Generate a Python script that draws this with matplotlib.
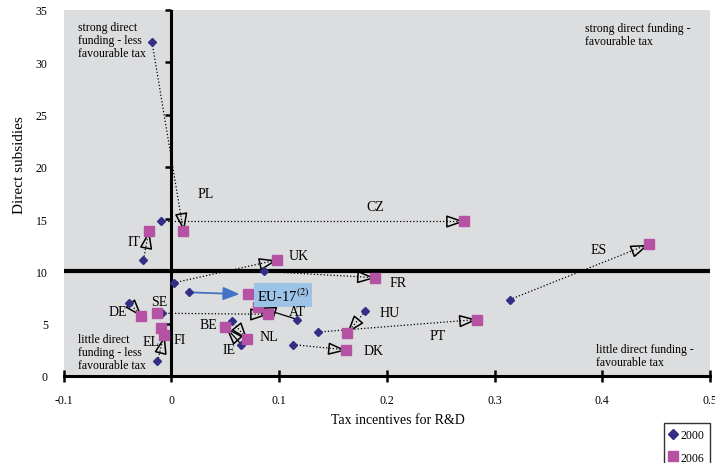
import numpy as np
import matplotlib
matplotlib.use("Agg")
import matplotlib.pyplot as plt
from matplotlib.markers import MarkerStyle
from matplotlib.path import Path
from matplotlib.transforms import Affine2D
from matplotlib.lines import Line2D

plt.rcParams['font.family'] = ['Liberation Serif', 'DejaVu Serif']
plt.rcParams['mathtext.fontset'] = 'stix'

# tax incentives (x) and direct subsidies (y), 2000 -> 2006
countries = ['PL', 'CZ', 'IT', 'UK', 'FR', 'ES', 'DE', 'SE', 'AT', 'NL',
             'BE', 'IE', 'EL', 'FI', 'HU', 'PT', 'DK']
x2000 = [-0.018, -0.010, -0.026, 0.002, 0.086, 0.314, -0.039, np.nan, -0.009, 0.056,
         0.117, 0.065, -0.013, np.nan, 0.180, 0.136, 0.113]
y2000 = [31.9, 14.8, 11.1, 8.9, 10.0, 7.3, 7.0, np.nan, 6.0, 5.3,
         5.4, 3.0, 1.4, np.nan, 6.2, 4.2, 3.0]
x2006 = [0.011, 0.272, -0.021, 0.098, 0.189, 0.443, -0.028, -0.013, 0.090, 0.070,
         0.080, 0.050, -0.007, -0.010, 0.163, 0.284, 0.162]
y2006 = [13.9, 14.8, 13.9, 11.1, 9.4, 12.6, 5.7, 6.0, 5.9, 3.5,
         6.6, 4.7, 3.9, 4.6, 4.1, 5.4, 2.5]
solid = ['BE', 'IE']

eu_x = [0.016, 0.071]
eu_y = [8.0, 7.8]

label_pos = {'PL': (0.032, 17.4), 'CZ': (0.189, 16.2), 'IT': (-0.035, 12.9),
             'UK': (0.118, 11.5), 'ES': (0.397, 12.1), 'FR': (0.210, 8.95),
             'DE': (-0.050, 6.2), 'SE': (-0.011, 7.1), 'AT': (0.117, 6.2),
             'HU': (0.203, 6.1), 'BE': (0.034, 4.9), 'NL': (0.090, 3.8),
             'PT': (0.247, 3.9), 'IE': (0.053, 2.5), 'DK': (0.188, 2.4),
             'EL': (-0.019, 3.3), 'FI': (0.008, 3.5)}

c2000 = '#332F85'
c2006 = '#B552A3'

fig = plt.figure(figsize=(7.15, 4.64), dpi=100)
ax = fig.add_axes([0.0892, 0.1875, 0.9038, 0.789])
ax.set_facecolor('#DCDDDF')
ax.set_xlim(-0.1, 0.5)
ax.set_ylim(0, 35)

for s in ['top', 'right', 'left']:
    ax.spines[s].set_visible(False)
ax.spines['bottom'].set_linewidth(2.2)
ax.set_xticks([-0.1, 0, 0.1, 0.2, 0.3, 0.4, 0.5])
ax.set_xticklabels(['-0.1', '0', '0.1', '0.2', '0.3', '0.4', '0.5'])
ax.tick_params(axis='x', direction='inout', length=8, width=1.8, pad=9, labelsize=8.5)
yt = [0, 5, 10, 15, 20, 25, 30, 35]
ax.set_yticks(yt)
ax.tick_params(axis='y', length=0, pad=11.5, labelsize=8.5)

# quadrant lines
ax.axhline(10, color='black', lw=3, zorder=2)
ax.axvline(0, color='black', lw=2.2, zorder=2)
ax.plot(np.zeros(len(yt)), yt, ls='none', marker=0, ms=4, mew=1.8, color='black',
        zorder=2, clip_on=False)

tri = Path([(1, 0), (-1, 0.7), (-1, -0.7), (1, 0)],
           [Path.MOVETO, Path.LINETO, Path.LINETO, Path.CLOSEPOLY])

for i, c in enumerate(countries):
    if np.isnan(x2000[i]):
        continue
    ls = '-' if c in solid else ':'
    ax.plot([x2000[i], x2006[i]], [y2000[i], y2006[i]], color='black', lw=0.9,
            ls=ls, zorder=3)
    p0 = ax.transData.transform((x2000[i], y2000[i]))
    p1 = ax.transData.transform((x2006[i], y2006[i]))
    d = (p1 - p0) / np.hypot(*(p1 - p0))
    hx, hy = ax.transData.inverted().transform(p1 - d * 10)
    ang = np.degrees(np.arctan2(d[1], d[0]))
    m = MarkerStyle(tri, transform=Affine2D().rotate_deg(ang))
    ax.plot(hx, hy, marker=m, ms=11, mfc='none', mec='black', mew=1.1,
            ls='none', zorder=4)

ax.plot(x2000, y2000, ls='none', marker='D', ms=4, color=c2000, zorder=5)
ax.plot(x2006, y2006, ls='none', marker='s', ms=7, color=c2006, zorder=5)

# EU-17
ax.annotate('', xy=(eu_x[1], eu_y[1]), xytext=(eu_x[0], eu_y[0]),
            arrowprops=dict(arrowstyle='-|>,head_length=1.0,head_width=0.4',
                            color='#4472C4', lw=1.3, shrinkA=0, shrinkB=6),
            zorder=4)
ax.plot(eu_x[0], eu_y[0], ls='none', marker='D', ms=4, color=c2000, zorder=5)
ax.plot(eu_x[1], eu_y[1], ls='none', marker='s', ms=7, color=c2006, zorder=5)
ax.text(0.079, 7.75, 'EU-17$^{\\mathrm{(2)}}$', fontsize=10.5, va='center', ha='left',
        bbox=dict(boxstyle='square,pad=0.2', fc='#9DC3E6', ec='none'), zorder=6)

for c, (lx, ly) in label_pos.items():
    ax.text(lx, ly, c, fontsize=10, ha='center', va='center', zorder=6)

ax.text(-0.087, 33.9, 'strong direct\nfunding - less\nfavourable tax', fontsize=8.5,
        ha='left', va='top', linespacing=1.1)
ax.text(0.3835, 33.8, 'strong direct funding -\nfavourable tax', fontsize=8.5,
        ha='left', va='top', linespacing=1.1)
ax.text(-0.087, 0.5, 'little direct\nfunding - less\nfavourable tax', fontsize=8.5,
        ha='left', va='bottom', linespacing=1.1)
ax.text(0.394, 0.75, 'little direct funding -\nfavourable tax', fontsize=8.5,
        ha='left', va='bottom', linespacing=1.1)

fig.text(20 / 715, 1 - 165 / 464, 'Direct subsidies', rotation=90, fontsize=11,
         ha='center', va='center')
fig.text(398 / 715, 1 - 421 / 464, 'Tax incentives for R&D', fontsize=10,
         ha='center', va='center')

handles = [Line2D([], [], ls='none', marker='D', ms=5, color=c2000),
           Line2D([], [], ls='none', marker='s', ms=6.5, color=c2006)]
fig.legend(handles, ['2000', '2006'], loc='upper left',
           bbox_to_anchor=(664 / 715, 1 - 424 / 464), fontsize=8.5, frameon=True,
           fancybox=False, edgecolor='black', handlelength=0.6, handletextpad=0.3,
           borderpad=0.5, labelspacing=0.9, borderaxespad=0)

fig.savefig('out.png', dpi=100)
